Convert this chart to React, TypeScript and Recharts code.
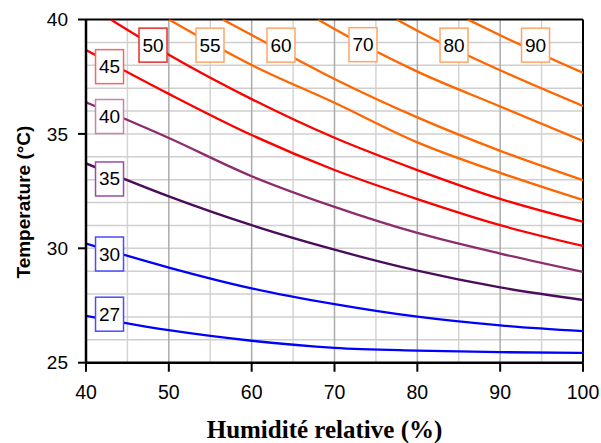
import React from 'react';
import { LineChart, Line, XAxis, YAxis, ReferenceLine, ReferenceDot } from 'recharts';

// Axis ticks and grid values
const humidityTicks = [40, 50, 60, 70, 80, 90, 100];
const temperatureTicks = [25, 30, 35, 40];
const humidityMinorGrid = [45, 55, 65, 75, 85, 95];
const humidityMajorGrid = [50, 60, 70, 80, 90];
const temperatureGrid = [26, 27, 28, 29, 30, 31, 32, 33, 34, 35, 36, 37, 38, 39];

// Iso-curves: [relative humidity %, temperature °C]
const curve27 = [[40, 27.05], [50, 26.42], [60, 25.96], [70, 25.65], [80, 25.53], [90, 25.46], [100, 25.43]];
const curve30 = [[40, 30.21], [50, 29.16], [60, 28.25], [70, 27.56], [80, 27.01], [90, 26.63], [100, 26.38]];
const curve35 = [[40, 33.71], [50, 32.27], [60, 31.01], [70, 29.94], [80, 29.02], [90, 28.29], [100, 27.74]];
const curve40 = [[40, 36.38], [50, 34.82], [60, 33.15], [70, 31.81], [80, 30.67], [90, 29.77], [100, 28.97]];
const curve45 = [[40, 38.67], [50, 36.75], [60, 34.95], [70, 33.42], [80, 32.15], [90, 31.01], [100, 30.1]];
const curve50 = [[42.98, 40], [50, 38.46], [60, 36.52], [70, 34.83], [80, 33.42], [90, 32.16], [100, 31.16]];
const curve55 = [[50, 40], [60, 38.01], [70, 36.36], [80, 34.63], [90, 33.3], [100, 32.11]];
const curve60 = [[56.5, 40], [60, 39.32], [70, 37.4], [80, 35.72], [90, 34.26], [100, 32.98]];
const curve70 = [[68.0, 40], [70, 39.58], [80, 37.72], [90, 36.2], [100, 34.69]];
const curve80 = [[77.5, 40], [80, 39.51], [90, 37.78], [100, 36.22]];
const curve90 = [[86.1, 40], [90, 39.31], [100, 37.67]];

// Label positions (humidity, temperature) for each curve's tag
const labelNames = ['27', '30', '35', '40', '45', '50', '55', '60', '70', '80', '90'];
const labelHumidity = [42.84, 42.84, 42.84, 42.84, 42.84, 48.09, 54.97, 63.54, 73.44, 84.43, 94.27];
const labelTemperature = [27.12, 29.75, 33.03, 35.76, 37.94, 38.88, 38.88, 38.88, 38.9, 38.88, 38.88];

const curves = [curve27, curve30, curve35, curve40, curve45, curve50, curve55, curve60, curve70, curve80, curve90];
const lineColors = ['#0000ff', '#0000ff', '#4b0c5c', '#8c2d6e', '#ff0000', '#ff0000', '#ff6600', '#ff6600', '#ff6600', '#ff6600', '#ff6600'];
const boxColors = ['#4a4aff', '#4a4aff', '#9a4ea0', '#c884aa', '#f06868', '#e82c2c', '#ffa466', '#ffa466', '#ffa466', '#ffa466', '#ffa466'];

const FONT = '"Liberation Sans", Arial, sans-serif';

const XLabel = (props: any) => {
  const vb = props.viewBox || {};
  return (
    <text x={vb.x + vb.width / 2 - 10} y={vb.y + 75} textAnchor="middle"
      style={{ fontFamily: '"Liberation Serif", "Times New Roman", serif', fontWeight: 'bold', fontSize: 25, fill: '#000' }}>
      Humidité relative (%)
    </text>
  );
};

const YLabel = (props: any) => {
  const vb = props.viewBox || {};
  const cy = vb.y + vb.height / 2 + 11;
  return (
    <text x={24} y={cy} transform={`rotate(-90, 24, ${cy})`} textAnchor="middle" dominantBaseline="central"
      style={{ fontFamily: FONT, fontWeight: 'bold', fontSize: 19, fill: '#000' }}>
      Temperature (°C)
    </text>
  );
};

const makeTag = (name: string, color: string) => (props: any) => {
  const { cx, cy } = props;
  return (
    <g>
      <rect x={cx - 14} y={cy - 17} width={28} height={34} fill="#ffffff" stroke={color} strokeWidth={1.5} />
      <text x={cx} y={cy} textAnchor="middle" dominantBaseline="central"
        style={{ fontFamily: FONT, fontSize: 19, fill: '#000' }}>{name}</text>
    </g>
  );
};

export default function App() {
  return (
    <div style={{ position: 'absolute', left: 0, top: 0, background: '#fff' }}>
      <LineChart width={601} height={443} margin={{ top: 19.5, right: 18, left: 26, bottom: 40.3 }}>
        {humidityMinorGrid.map((v) => (
          <ReferenceLine key={'hm' + v} x={v} stroke="#d4d4d4" strokeWidth={1.5} />
        ))}
        {temperatureGrid.map((v) => (
          <ReferenceLine key={'tg' + v} y={v} stroke="#cfcfcf" strokeWidth={1.5} />
        ))}
        {humidityMajorGrid.map((v) => (
          <ReferenceLine key={'hM' + v} x={v} stroke="#ababab" strokeWidth={1.5} />
        ))}
        <ReferenceLine y={40} stroke="#000" strokeWidth={2} />
        <ReferenceLine x={100} stroke="#000" strokeWidth={2} />
        <XAxis type="number" dataKey="rh" domain={[40, 100]} ticks={humidityTicks} allowDataOverflow
          height={40} tickSize={9} tickMargin={13}
          axisLine={{ stroke: '#000', strokeWidth: 2.5 }} tickLine={{ stroke: '#000', strokeWidth: 2 }}
          tick={{ fontFamily: FONT, fontSize: 19.5, fill: '#000' }} label={<XLabel />} />
        <YAxis type="number" domain={[25, 40]} ticks={temperatureTicks} allowDataOverflow
          width={60} tickSize={8} tickMargin={10}
          axisLine={{ stroke: '#000', strokeWidth: 2.5 }} tickLine={{ stroke: '#000', strokeWidth: 2 }}
          tick={{ fontFamily: FONT, fontSize: 19, fill: '#000' }} label={<YLabel />} />
        {curves.map((c, i) => (
          <Line key={'c' + i} data={c.map(([rh, t]) => ({ rh, t }))} dataKey="t" type="monotone"
            stroke={lineColors[i]} strokeWidth={2.3} dot={false} activeDot={false} isAnimationActive={false} />
        ))}
        {labelNames.map((n, i) => (
          <ReferenceDot key={'l' + n} x={labelHumidity[i]} y={labelTemperature[i]} r={10}
            shape={makeTag(n, boxColors[i])} />
        ))}
      </LineChart>
    </div>
  );
}
